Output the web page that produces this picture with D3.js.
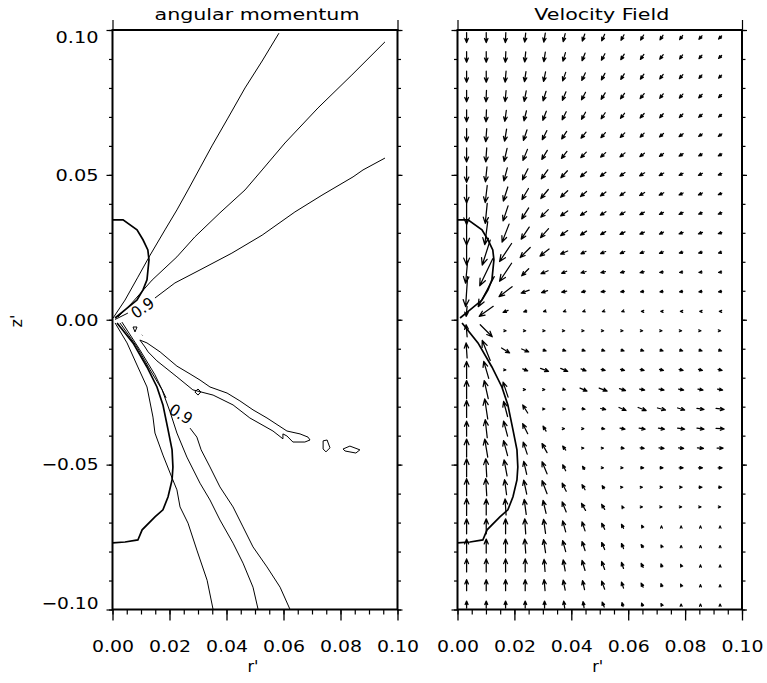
<!DOCTYPE html>
<html>
<head>
<meta charset="utf-8">
<script src="https://cdn.jsdelivr.net/npm/d3@7"></script>
<style>
  body { margin: 0; background: #fff; }
  svg { display: block; }
  text { font-family: "DejaVu Sans", sans-serif; fill: #000; }
</style>
</head>
<body>
<svg id="chart" width="767" height="683"></svg>
<script>
// ---------------- text ----------------
const panelTitles = ["angular momentum", "Velocity Field"];
const rAxisLabel = "r'";
const zAxisLabel = "z'";
const levelLabel = "0.9";

// ---------------- axis ticks ----------------
const rTicksMajor = [0, 0.02, 0.04, 0.06, 0.08, 0.10];
const rTicksMinor = [0, 0.005, 0.01, 0.015, 0.02, 0.025, 0.03, 0.035, 0.04, 0.045, 0.05,
                     0.055, 0.06, 0.065, 0.07, 0.075, 0.08, 0.085, 0.09, 0.095, 0.10];
const zTicksMajor = [-0.10, -0.05, 0, 0.05, 0.10];
const zTicksMinor = [-0.10, -0.09, -0.08, -0.07, -0.06, -0.05, -0.04, -0.03, -0.02, -0.01, 0,
                     0.01, 0.02, 0.03, 0.04, 0.05, 0.06, 0.07, 0.08, 0.09, 0.10];

// ---------------- angular momentum contours, [r', z'] ----------------
const contourA = [[0.0002,0.0006],[0.0044,0.0068],[0.0089,0.0147],[0.0132,0.0223],[0.0184,0.0310],
  [0.0226,0.0379],[0.0265,0.0448],[0.0307,0.0524],[0.0349,0.0600],[0.0405,0.0696],[0.0465,0.0800],
  [0.0525,0.0893],[0.0584,0.0989]];
const contourB = [[0.0019,0.0009],[0.0068,0.0058],[0.0139,0.0137],[0.0226,0.0217],[0.0289,0.0286],
  [0.0377,0.0369],[0.0465,0.0448],[0.0525,0.0517],[0.0605,0.0610],[0.0721,0.0731],[0.0840,0.0845],
  [0.0956,0.0959]];
const contourC1 = [[0.0009,0.0001],[0.0054,0.0023]];
const contourC2 = [[0.0149,0.0075],[0.0219,0.0127],[0.0307,0.0172],[0.0419,0.0230],[0.0525,0.0292],
  [0.0640,0.0372],[0.0735,0.0430],[0.0844,0.0493],[0.0879,0.0517],[0.0956,0.0558]];
const contourD = [[0.0009,-0.0011],[0.0051,-0.0080],[0.0089,-0.0163],[0.0121,-0.0232],[0.0142,-0.0336],
  [0.0149,-0.0391],[0.0177,-0.0467],[0.0209,-0.0546],[0.0226,-0.0587],[0.0237,-0.0646],[0.0265,-0.0702],
  [0.0296,-0.0795],[0.0332,-0.0899],[0.0353,-0.1000]];
const contourF = [[0.0026,-0.0011],[0.0086,-0.0094],[0.0132,-0.0173],[0.0174,-0.0242],[0.0202,-0.0318],
  [0.0226,-0.0391],[0.0261,-0.0474],[0.0307,-0.0564],[0.0342,-0.0622],[0.0377,-0.0691],[0.0423,-0.0771],
  [0.0458,-0.0840],[0.0493,-0.0923],[0.0511,-0.1000]];
const contourG1 = [[0.0033,-0.0008],[0.0096,-0.0104],[0.0149,-0.0190],[0.0188,-0.0270]];
const contourG2 = [[0.0272,-0.0374],[0.0296,-0.0405],[0.0311,-0.0449],[0.0342,-0.0508],[0.0377,-0.0577],
  [0.0423,-0.0646],[0.0458,-0.0715],[0.0493,-0.0784],[0.0542,-0.0853],[0.0588,-0.0923],[0.0623,-0.1000]];
const tongueLoop = [[0.0096,-0.0070],[0.0121,-0.0080],[0.0167,-0.0111],[0.0226,-0.0160],[0.0272,-0.0187],
  [0.0307,-0.0208],[0.0342,-0.0232],[0.0402,-0.0253],[0.0447,-0.0280],[0.0493,-0.0311],[0.0542,-0.0339],
  [0.0612,-0.0384],[0.0658,-0.0394],[0.0686,-0.0405],[0.0693,-0.0415],[0.0675,-0.0422],[0.0633,-0.0422],
  [0.0612,-0.0401],[0.0598,-0.0394],[0.0598,-0.0411],[0.0563,-0.0384],[0.0482,-0.0339],[0.0423,-0.0294],
  [0.0353,-0.0260],[0.0282,-0.0242],[0.0226,-0.0197],[0.0156,-0.0142],[0.0125,-0.0111],[0.0114,-0.0094]];
const islandSmall = [[0.0289,-0.0249],[0.0300,-0.0239],[0.0310,-0.0249],[0.0300,-0.0260]];
const islandDiamond = [[0.0739,-0.0418],[0.0753,-0.0415],[0.0763,-0.0442],[0.0749,-0.0456],[0.0739,-0.0446]];
const islandOval = [[0.0809,-0.0446],[0.0833,-0.0436],[0.0868,-0.0449],[0.0854,-0.0460],[0.0816,-0.0453]];
const islandTriangle = [[0.0072,-0.0025],[0.0086,-0.0025],[0.0079,-0.0042]];
const islandDot = [[0.0103,-0.0052],[0.0105,-0.0054]];

// level labels: [r', z', rotation in degrees]
const levelLabelUpper = [0.0105, 0.0042, -35];
const levelLabelLower = [0.0240, -0.0325, 32];

// bold boundary curve, drawn on both panels
const boundaryUpper = [[0,0.0345],[0.0037,0.0345],[0.0086,0.0310],[0.0107,0.0276],[0.0124,0.0241],
  [0.0128,0.0207],[0.0121,0.0138],[0.0107,0.0103],[0.0086,0.0068],[0.0044,0.0034],[0.0009,0.0006]];
const boundaryLower = [[0.0016,-0.0011],[0.0072,-0.0080],[0.0121,-0.0163],[0.0156,-0.0232],
  [0.0177,-0.0294],[0.0195,-0.0380],[0.0209,-0.0449],[0.0212,-0.0508],[0.0209,-0.0553],[0.0195,-0.0611],
  [0.0177,-0.0656],[0.0149,-0.0680],[0.0104,-0.0725],[0.0089,-0.0760],[0.0044,-0.0767],[0,-0.0770]];

// ---------------- velocity field ----------------
const gridR = [0.0032,0.0101,0.0169,0.0238,0.0306,0.0375,0.0443,0.0512,0.0580,0.0649,0.0717,0.0786,0.0854,0.0923];
const gridZ = [0.0974,0.0907,0.0839,0.0772,0.0704,0.0637,0.0569,0.0502,0.0434,0.0367,0.0299,0.0232,0.0164,
  0.0097,0.0029,-0.0038,-0.0106,-0.0173,-0.0241,-0.0308,-0.0376,-0.0443,-0.0511,-0.0578,-0.0646,-0.0713,
  -0.0781,-0.0848,-0.0916,-0.0983];
// radial component, one row per gridZ entry
const velR = [
  [0,0,-0.5,-1,-1.5,-2,-2.5,-3,-3,-3,-3,-3,-3,-3],
  [0,0,-0.5,-1,-1.5,-2.5,-3,-3.5,-3.5,-3.5,-3.5,-3,-3,-3],
  [0,0,-1,-1.5,-2,-3,-3.5,-3.5,-3.5,-3.5,-3.5,-3.5,-3,-3],
  [0,-0.5,-1,-2,-3,-3.5,-4,-4,-4,-4,-3.5,-3.5,-3.5,-3],
  [0,-0.5,-1.5,-2.5,-3.5,-4,-4,-4,-4,-4,-3.5,-3.5,-3.5,-3],
  [0,-1,-2,-3.5,-4.5,-5,-5,-4.5,-4.5,-4,-4,-4,-3.5,-3.5],
  [0,-1,-3,-4.5,-5.5,-5.5,-5.5,-5,-5,-4.5,-4,-4,-3.5,-3.5],
  [0,-1.5,-3.5,-5.5,-6.5,-6.5,-6,-5.5,-5,-5,-4.5,-4,-4,-3.5],
  [0,-2,-4.5,-6.5,-7.5,-7,-6,-5.5,-5,-5,-4.5,-4,-4,-3.5],
  [0,-2,-5,-7,-7.5,-7,-6,-5.5,-5,-4.5,-4,-4,-3.5,-3.5],
  [0,-3,-7,-8,-8,-7,-6,-5,-5,-4.5,-4,-4,-4,-3.5],
  [0,-8,-12,-10,-9,-7,-5,-5,-4.5,-4,-4,-3.5,-3.5,-3],
  [-2,-13,-12,-7,-7,-5,-5,-4.5,-4,-4,-3.5,-3,-3,-3],
  [-2,-16,-13,-8,-6,-5,-4,-4,-3.5,-3,-3,-3,-3,-3],
  [-1,-14,-5,-3,-2,-1.5,-1.5,-1.5,-1.5,-1.5,-1.5,-1.5,-1.5,-1.5],
  [-1,12,1,1,1,1,1,1,1,1,1,1,1,1],
  [-1,-8,8,7,3,3,3,3,3,3,3,3,3,3],
  [0,-5,0.5,5,8,7,5,4,4,4,4,4,4,4],
  [0,-4,-5,0.5,0.5,2,7,8,6,5,5,5,5,5],
  [0,-3,-4,-5,0.5,2,3,5,7,8,8,7,7,8],
  [0,-2,-4,-5,-3,0.5,0.5,3,5,6,6,7,7,8],
  [0,-3,-4,-4,-5,-3,0.5,0.5,3,4,5,5,6,6],
  [0,-1,-3,-3,-5,-3,-2,0.5,1,3,3,4,4,4],
  [0,-1,-2,-3,-5,-4,-3,-2,0.5,0.5,2,2,3,3],
  [0,0,-1,-2,-3,-4,-4,-3,-1,0.5,1,1,1,1],
  [0,0,0,-1,-2,-3,-3,-3,-2,-1,0,0,0,0],
  [0,0,0,-1,-2,-3,-3,-3,-2,-2,-1,0,0,0],
  [0,0,0,0,-1,-2,-3,-3,-2,-2,-1,-1,0,0],
  [0,0,0,0,-1,-2,-2,-3,-2,-2,-1,-1,0,0],
  [0,0,0,0,0,-1,-1,-2,-1,-1,-1,0,0,0]
];
// axial component, one row per gridZ entry
const velZ = [
  [-10,-10,-10,-9,-9,-8,-7,-6.5,-5.5,-5,-4.5,-4,-3.5,-3],
  [-10.5,-10.5,-10.5,-10,-9.5,-8.5,-7.5,-6.5,-5.5,-5,-4.5,-4,-3.5,-3],
  [-11,-11,-11,-10,-9.5,-8.5,-7.5,-6.5,-5.5,-5,-4.5,-4,-3.5,-3],
  [-11.5,-11.5,-11,-10.5,-9.5,-8.5,-7.5,-6.5,-5.5,-5,-4.5,-4,-3.5,-3],
  [-12,-12,-11,-10,-9,-8,-7,-6,-5,-4.5,-4,-3.5,-3,-2.5],
  [-13,-13,-12,-10.5,-9,-7.5,-6,-5,-4.5,-4,-3.5,-3,-2.5,-2.5],
  [-14,-14,-13,-11,-9,-7,-5.5,-4.5,-4,-3.5,-3,-2.5,-2,-2],
  [-16,-15,-13,-11,-9,-7,-5,-4,-3.5,-3,-2.5,-2,-2,-1.5],
  [-18,-17,-14,-11,-9,-6.5,-5,-4,-3.5,-3,-2.5,-2,-2,-1.5],
  [-22,-20,-15,-11,-7.5,-5,-4,-3.5,-3,-2.5,-2,-2,-1.5,-1.5],
  [-24,-23,-18,-12,-9,-5,-4,-3,-2.5,-2,-2,-1.5,-1.5,-1],
  [-25,-25,-18,-10,-7,-3,-2.5,-2,-2,-1.5,-1.5,-1,-1,-1],
  [-22,-27,-18,-7,-3,-2,-1.5,-1,-1,-1,-0.5,-0.5,-0.5,-0.5],
  [-30,-30,-10,-3,-2,-1,-1,-0.5,-0.5,-0.5,-0.5,-0.5,-0.5,-0.5],
  [-10,-10,-2,-1,-0.5,-0.5,-0.5,-0.5,-0.5,0,0,0,0,0],
  [12,-12,0,0,0,0,0,0,0,0,0,0,0,0],
  [15,20,-5,-3,-1,-1,-1,-1,-1,-1,-1,-1,-1,-1],
  [17,17,0,-2,-3,-3,-2,-1,-1,-1,-1,-1,-1,-1],
  [18,18,15,0,0,-0.5,-3,-3,-2,-1,-1,-1,-1,-1],
  [17,20,15,8,0,0,-0.5,-1,-3,-3,-2,-2,-1,-1],
  [15,18,15,10,5,0,0,-0.5,-1,-1,-1,-1,-1,-0.5],
  [18,18,15,12,9,4,0,0,-0.5,-0.5,-0.5,-0.5,-0.5,0],
  [18,18,16,13,12,6,3,0,0,0,0,0,0,0],
  [17,17,15,14,13,8,5,3,0,0,0,0,0,0],
  [17,16,16,15,13,10,7,5,2,0,0,0,0,0],
  [15,15,15,15,14,11,9,6,4,2,0.8,0.8,0.8,0.8],
  [14,14,14,14,13,11,9,7,5,3,2,1,1,1],
  [13,13,13,13,12,11,10,8,6,4,3,2,1,1],
  [11,11,11,11,11,10,9,8,6,4,3,2,1,1],
  [7,7,7,7,7,7,6,5,4,3,2,1,1,1]
];

// ---------------- layout ----------------
const svg = d3.select("#chart");
const yScale = d3.scaleLinear().domain([-0.1, 0.1]).range([609.5, 30]);
const xLeft = d3.scaleLinear().domain([0, 0.1]).range([112.5, 397.5]);
const xRight = d3.scaleLinear().domain([0, 0.1]).range([457.5, 742]);
const vecScale = d3.scaleLinear().domain([0, 1]).range([0, 1]);

function styleAxis(g, width) {
  g.select(".domain").remove();
  g.selectAll(".tick line").attr("stroke", "#000").attr("stroke-width", width || 1.2);
}

function drawFrame(x, showZLabels, title, titleWidth) {
  const g = svg.append("g");
  const [x0, x1] = x.range();
  const [yb, yt] = yScale.range();

  // bottom: minor and major ticks plus labels
  g.append("g").attr("transform", `translate(0,${yb})`)
    .call(d3.axisBottom(x).tickValues(rTicksMinor).tickSize(5).tickFormat(""))
    .call(a => styleAxis(a));
  const bx = g.append("g").attr("transform", `translate(0,${yb})`)
    .call(d3.axisBottom(x).tickValues(rTicksMajor).tickSize(11).tickFormat(d3.format(".2f")))
    .call(a => styleAxis(a, 1.3));
  bx.attr("font-family", null).attr("font-size", null);
  bx.selectAll(".tick text")
    .attr("y", 42).attr("dy", 0)
    .style("font-size", "16px")
    .attr("textLength", 42).attr("lengthAdjust", "spacingAndGlyphs");

  // top corners
  g.append("g").attr("transform", `translate(0,${yt})`)
    .call(d3.axisTop(x).tickValues([0, 0.1]).tickSize(10).tickFormat(""))
    .call(a => styleAxis(a));

  // left and right ticks
  g.append("g").attr("transform", `translate(${x0},0)`)
    .call(d3.axisLeft(yScale).tickValues(zTicksMinor).tickSize(3.5).tickFormat(""))
    .call(a => styleAxis(a));
  g.append("g").attr("transform", `translate(${x0},0)`)
    .call(d3.axisLeft(yScale).tickValues(zTicksMajor).tickSize(6).tickFormat(""))
    .call(a => styleAxis(a));
  g.append("g").attr("transform", `translate(${x1},0)`)
    .call(d3.axisRight(yScale).tickValues(zTicksMinor).tickSize(3.5).tickFormat(""))
    .call(a => styleAxis(a));
  g.append("g").attr("transform", `translate(${x1},0)`)
    .call(d3.axisRight(yScale).tickValues(zTicksMajor).tickSize(5).tickFormat(""))
    .call(a => styleAxis(a));

  if (showZLabels) {
    const fmt = d3.format(".2f");
    g.selectAll("text.zlab").data(zTicksMajor).join("text")
      .attr("class", "zlab")
      .attr("x", x0 - 14)
      .attr("y", d => Math.max(yt + 7.5, Math.min(yb - 6, yScale(d))))
      .attr("dy", "0.36em")
      .attr("text-anchor", "end")
      .style("font-size", "16px")
      .attr("textLength", d => d < 0 ? 57 : 43)
      .attr("lengthAdjust", "spacingAndGlyphs")
      .text(d => fmt(d));
  }

  // frame
  g.append("rect")
    .attr("x", x0).attr("y", yt).attr("width", x1 - x0).attr("height", yb - yt)
    .attr("fill", "none").attr("stroke", "#000").attr("stroke-width", 2);

  // title and r' label
  const cx = (x0 + x1) / 2;
  g.append("text").attr("x", cx + 2).attr("y", 20).attr("text-anchor", "middle")
    .style("font-size", "15px")
    .attr("textLength", titleWidth).attr("lengthAdjust", "spacingAndGlyphs")
    .text(title);
  g.append("text").attr("x", cx - 2).attr("y", 672).attr("text-anchor", "middle")
    .style("font-size", "16px").text(rAxisLabel);
  return g;
}

function lineFor(x) {
  return d3.line().x(d => x(d[0])).y(d => yScale(d[1]));
}

// ---------------- left panel: angular momentum ----------------
const gL = svg.append("g");
const lineL = lineFor(xLeft);
const openLines = [contourA, contourB, contourC1, contourC2, contourD, contourF, contourG1, contourG2, islandDot];
gL.selectAll("path.open").data(openLines).join("path")
  .attr("class", "open")
  .attr("d", lineL).attr("fill", "none").attr("stroke", "#000").attr("stroke-width", 1);
const loops = [tongueLoop, islandSmall, islandDiamond, islandOval, islandTriangle];
gL.selectAll("path.loop").data(loops).join("path")
  .attr("class", "loop")
  .attr("d", d => lineL(d) + "Z").attr("fill", "none").attr("stroke", "#000").attr("stroke-width", 1);
gL.selectAll("path.bound").data([boundaryUpper, boundaryLower]).join("path")
  .attr("class", "bound")
  .attr("d", lineL).attr("fill", "none").attr("stroke", "#000").attr("stroke-width", 1.7);
gL.selectAll("text.level").data([levelLabelUpper, levelLabelLower]).join("text")
  .attr("class", "level")
  .attr("transform", d => `translate(${xLeft(d[0])},${yScale(d[1])}) rotate(${d[2]})`)
  .attr("text-anchor", "middle").attr("dy", "0.36em")
  .style("font-size", "16px")
  .attr("textLength", 24).attr("lengthAdjust", "spacingAndGlyphs")
  .text(levelLabel);

drawFrame(xLeft, true, panelTitles[0], 205);

// z' axis label
svg.append("text")
  .attr("transform", "translate(22,321) rotate(-90)")
  .attr("text-anchor", "middle")
  .style("font-size", "16px")
  .text(zAxisLabel);

// ---------------- right panel: velocity field ----------------
const gR = svg.append("g");
const lineR = lineFor(xRight);
const vectors = [];
gridZ.forEach((z, j) => gridR.forEach((r, i) => {
  vectors.push({ r, z, u: velR[j][i], w: velZ[j][i] });
}));

function arrowPath(v) {
  const cx = xRight(v.r), cy = yScale(v.z);
  const dx = vecScale(v.u), dy = -vecScale(v.w);
  const len = Math.hypot(dx, dy);
  const tx = cx - dx / 2, ty = cy - dy / 2;
  const hx = cx + dx / 2, hy = cy + dy / 2;
  if (len < 0.01) return `M${cx - 0.5},${cy}L${cx + 0.5},${cy}`;
  const a = Math.atan2(dy, dx);
  const h = Math.min(7.5, 2.2 + 0.22 * len);
  const s = 0.4;
  const p1 = [hx - h * Math.cos(a - s), hy - h * Math.sin(a - s)];
  const p2 = [hx - h * Math.cos(a + s), hy - h * Math.sin(a + s)];
  return `M${tx},${ty}L${hx},${hy}M${p1[0]},${p1[1]}L${hx},${hy}L${p2[0]},${p2[1]}`;
}

gR.selectAll("path.vec").data(vectors).join("path")
  .attr("class", "vec")
  .attr("d", arrowPath)
  .attr("fill", "none").attr("stroke", "#000").attr("stroke-width", 1.25)
  .attr("stroke-linecap", "round").attr("stroke-linejoin", "round");

gR.selectAll("path.bound").data([boundaryUpper, boundaryLower]).join("path")
  .attr("class", "bound")
  .attr("d", lineR).attr("fill", "none").attr("stroke", "#000").attr("stroke-width", 1.7);

drawFrame(xRight, false, panelTitles[1], 135);
</script>
</body>
</html>
